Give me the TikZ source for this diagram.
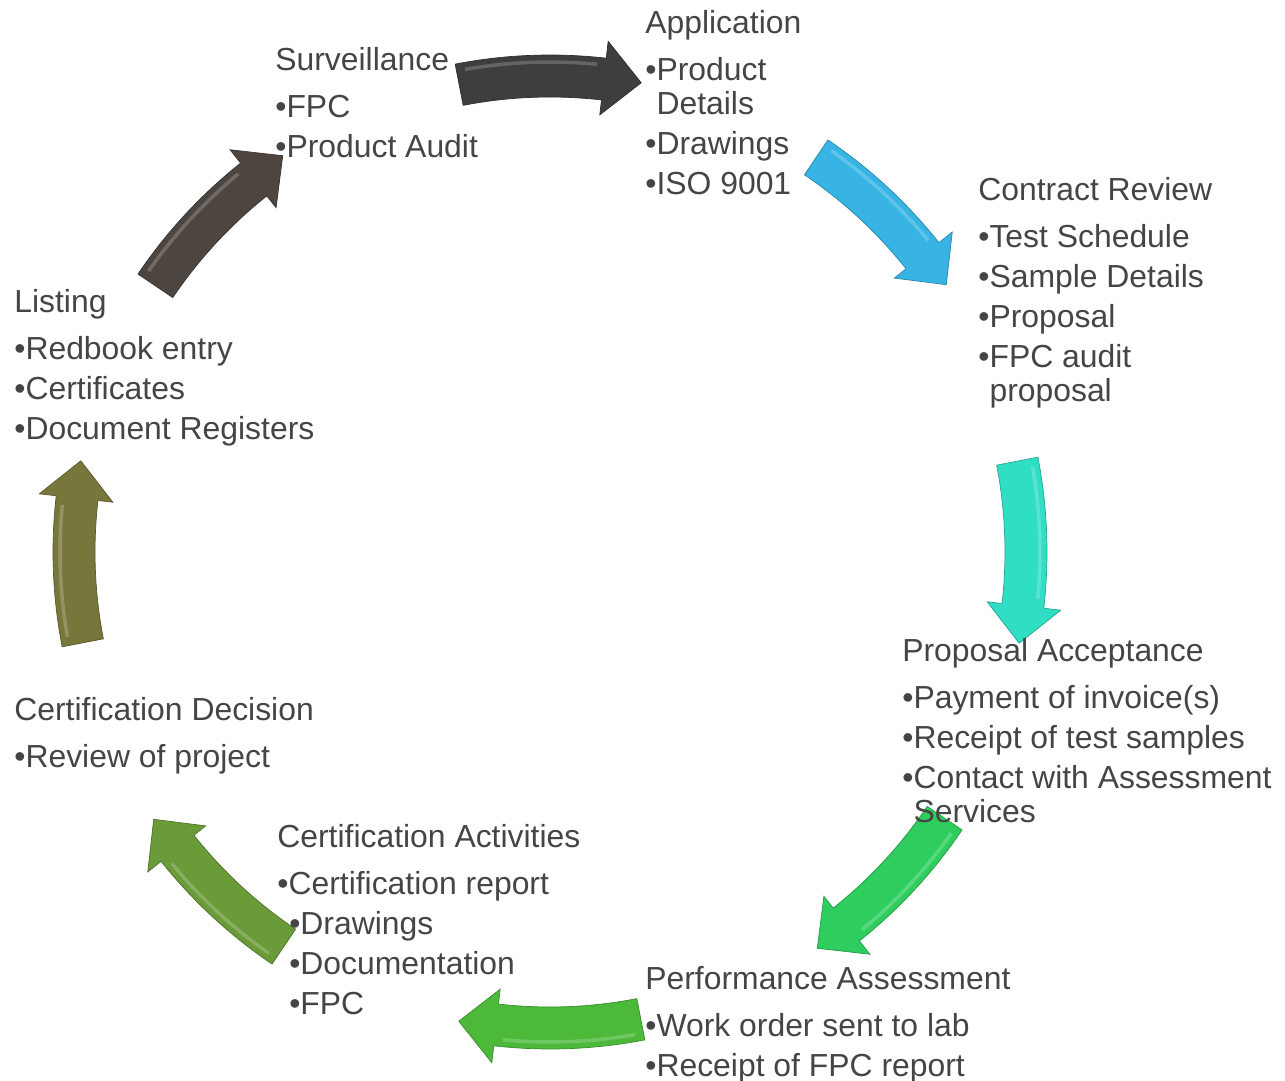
\documentclass[tikz,border=0pt]{standalone}
\usepackage{fontspec}
\setmainfont{Liberation Sans}
\usetikzlibrary{positioning}

\definecolor{textgray}{HTML}{454545}
\definecolor{arrowdark}{HTML}{3E3E3E}
\definecolor{arrowblue}{HTML}{38B4E4}
\definecolor{arrowteal}{HTML}{30DEC4}
\definecolor{arrowgreen}{HTML}{2ECD5E}
\definecolor{arrowleaf}{HTML}{4CB93A}
\definecolor{arrowmoss}{HTML}{6B9A38}
\definecolor{arrowolive}{HTML}{77773C}
\definecolor{arrowbrown}{HTML}{4D4540}

\tikzset{
  stage/.style={anchor=north west, align=left, inner sep=0pt, text=textgray,
    font=\fontsize{18.15}{19.3}\selectfont},
}

\begin{document}
\begin{tikzpicture}[x=0.02cm, y=0.02cm]
  \useasboundingbox (0,0) rectangle (1285,-1081);

  \coordinate (cyc) at (550,-552);

  \begin{scope}[shift={(cyc)}]
    \foreach \ang/\col in {90/arrowdark, 45/arrowblue, 0/arrowteal, -45/arrowgreen,
        -90/arrowleaf, -135/arrowmoss, 180/arrowolive, 135/arrowbrown}{
      \fill[\col, draw=\col!75!black, line width=0.4pt]
        (\ang+11:497) arc[start angle=\ang+11, end angle=\ang-6.5, radius=497]
        -- (\ang-6.5:514) -- (\ang-11:478) -- (\ang-6.5:440) -- (\ang-6.5:455)
        arc[start angle=\ang-6.5, end angle=\ang+11, radius=455] -- cycle;
      \draw[white, opacity=0.2, line width=2pt]
        (\ang+10:490) arc[start angle=\ang+10, end angle=\ang-5.5, radius=490];
    }
  \end{scope}

  \node[stage] (sur) at (275,-47.3) {Surveillance\\[7.4pt]
    •FPC\\[3.4pt]
    •Product Audit};
  \node[stage] (app) at (645,-10.3) {Application\\[7.4pt]
    •Product\\
    \phantom{•}Details\\[3.4pt]
    •Drawings\\[3.4pt]
    •ISO 9001};
  \node[stage] (con) at (978,-177.3) {Contract Review\\[7.4pt]
    •Test Schedule\\[3.4pt]
    •Sample Details\\[3.4pt]
    •Proposal\\[3.4pt]
    •FPC audit\\
    \phantom{•}proposal};
  \node[stage] (lis) at (14,-289.3) {Listing\\[7.4pt]
    •Redbook entry\\[3.4pt]
    •Certificates\\[3.4pt]
    •Document Registers};
  \node[stage] (pro) at (902,-638.3) {Proposal Acceptance\\[7.4pt]
    •Payment of invoice(s)\\[3.4pt]
    •Receipt of test samples\\[3.4pt]
    •Contact with Assessment\\
    \phantom{•}Services};
  \node[stage] (dec) at (14,-697.3) {Certification Decision\\[7.4pt]
    •Review of project};
  \node[stage] (act) at (277,-824.3) {Certification Activities\\[7.4pt]
    •Certification report\\[3.4pt]
    \hspace{6.8pt}•Drawings\\[3.4pt]
    \hspace{6.8pt}•Documentation\\[3.4pt]
    \hspace{6.8pt}•FPC};
  \node[stage] (per) at (645,-966.3) {Performance Assessment\\[7.4pt]
    •Work order sent to lab\\[3.4pt]
    •Receipt of FPC report};
\end{tikzpicture}
\end{document}
